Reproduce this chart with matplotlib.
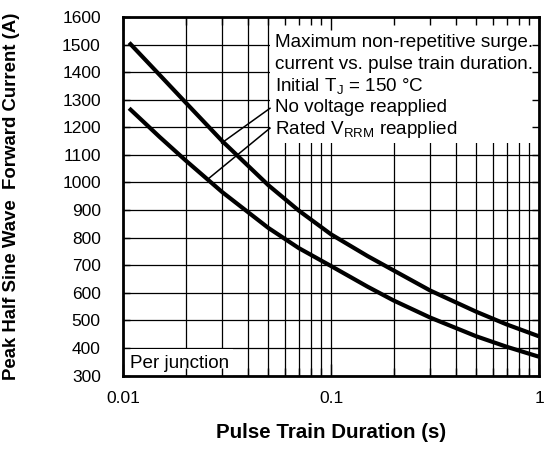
import numpy as np
import matplotlib
matplotlib.use("Agg")
import matplotlib.pyplot as plt
from matplotlib.patches import Rectangle
from matplotlib.ticker import LogLocator, NullFormatter

plt.rcParams['font.family'] = ['Liberation Sans', 'DejaVu Sans']
plt.rcParams['mathtext.default'] = 'regular'

# curves (pulse duration in s, current in A)
no_volt_t = [0.0107, 0.015, 0.02, 0.03, 0.05, 0.07, 0.1, 0.15, 0.2, 0.3, 0.5, 0.7, 1.0]
no_volt_i = [1507, 1390, 1290, 1150, 990, 898, 812, 733, 681, 608, 531, 485, 442]

rated_t = [0.0107, 0.015, 0.02, 0.03, 0.05, 0.07, 0.1, 0.15, 0.2, 0.3, 0.5, 0.7, 1.0]
rated_i = [1269, 1165, 1080, 965, 835, 762, 697, 622, 572, 510, 442, 404, 368]

xtick_vals = [0.01, 0.1, 1]
xtick_labels = ['0.01', '0.1', '1']
ytick_vals = list(range(300, 1700, 100))

fs = 12.5
fs_note = 13.6
W, H = 544, 455
fig = plt.figure(figsize=(W / 100, H / 100), dpi=100)
x0, x1, y0, y1 = 123, 539, 375.5, 17
ax = fig.add_axes([x0 / W, 1 - y0 / H, (x1 - x0) / W, (y0 - y1) / H])

def axy(py):
    # pixel row -> axes fraction
    return (y0 - py) / (y0 - y1)

def axx(px):
    return (px - x0) / (x1 - x0)

ax.set_xscale('log')
ax.set_xlim(0.01, 1)
ax.set_ylim(300, 1600)
ax.set_xticks(xtick_vals, xtick_labels)
ax.xaxis.set_minor_locator(LogLocator(base=10, subs=np.arange(2, 10)))
ax.xaxis.set_minor_formatter(NullFormatter())
ax.set_yticks(ytick_vals)
ax.set_axisbelow(True)
ax.grid(True, which='both', color='black', linewidth=0.9)
ax.tick_params(which='both', length=0, labelsize=fs)
ax.tick_params(axis='x', pad=11)
ax.tick_params(axis='y', pad=16)
for s in ax.spines.values():
    s.set_linewidth(2)
    s.set_zorder(5)

# white boxes covering the grid
ax.add_patch(Rectangle((axx(270), axy(143)), 1 - axx(270), 1 - axy(143),
                       transform=ax.transAxes, facecolor='white', edgecolor='none', zorder=1))
ax.add_patch(Rectangle((0, 0), axx(233), axy(349),
                       transform=ax.transAxes, facecolor='white', edgecolor='none', zorder=1))

ax.plot(no_volt_t, no_volt_i, color='black', linewidth=3, zorder=3, solid_capstyle='butt')
ax.plot(rated_t, rated_i, color='black', linewidth=3, zorder=3, solid_capstyle='butt')

# leader lines
ax.plot([0.0298, 0.0509], [1143, 1269], color='black', linewidth=1.1, zorder=2)
ax.plot([0.0254, 0.0509], [1010, 1197], color='black', linewidth=1.1, zorder=2)

lines = ['Maximum non-repetitive surge.',
         'current vs. pulse train duration.',
         r'Initial T$_\mathregular{J}$ = 150 °C',
         'No voltage reapplied',
         r'Rated V$_\mathregular{RRM}$ reapplied']
for k, s in enumerate(lines):
    ax.text(axx(275), axy(47 + 21.8 * k), s, transform=ax.transAxes,
            fontsize=fs_note, va='baseline', ha='left', zorder=4)
ax.text(axx(130), axy(368), 'Per junction', transform=ax.transAxes,
        fontsize=fs_note, va='baseline', ha='left', zorder=4)

ax.set_xlabel('Pulse Train Duration (s)', fontsize=14.8, fontweight='bold', va='center')
ax.xaxis.set_label_coords(0.5, axy(432))
ax.set_ylabel('Peak Half Sine Wave  Forward Current (A)', fontsize=13.4, fontweight='bold',
              va='center')
ax.yaxis.set_label_coords(axx(12), 0.5)

# overlay axes only for the inward tick marks
ax_t = fig.add_axes(ax.get_position(), sharex=ax, sharey=ax)
ax_t.patch.set_visible(False)
for s in ax_t.spines.values():
    s.set_visible(False)
ax_t.tick_params(which='both', direction='in', top=True, right=True, bottom=True, left=True,
                 labelbottom=False, labelleft=False, color='black')
ax_t.tick_params(axis='x', which='major', length=9, width=1)
ax_t.tick_params(axis='x', which='minor', length=6, width=1)
ax_t.tick_params(axis='y', which='major', length=5, width=1)

fig.savefig('out.png', dpi=100)
